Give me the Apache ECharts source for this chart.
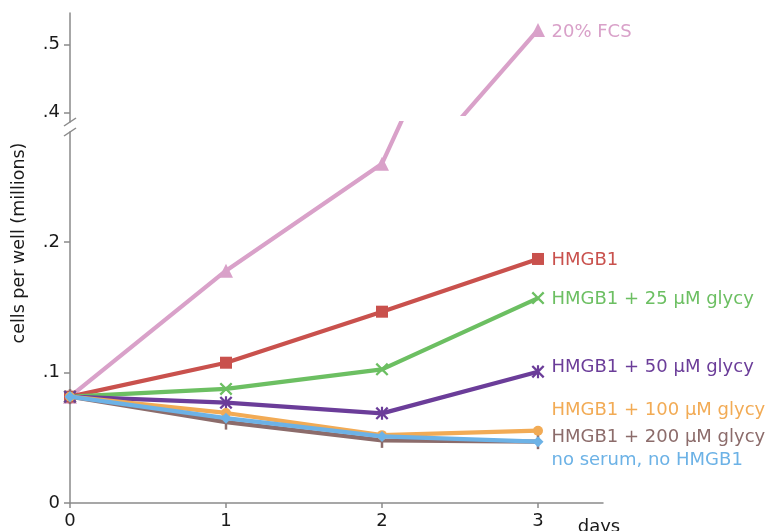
<!DOCTYPE html>
<html>
<head>
<meta charset="utf-8">
<script src="https://cdn.jsdelivr.net/npm/echarts@6/dist/echarts.min.js"></script>
<style>html,body{margin:0;padding:0;background:#fff;}#c{width:774px;height:531px;}</style>
</head>
<body>
<div id="c"></div>
<script>
// ---- data ----
var days = [0, 1, 2, 3];
var xTickLabels = [0, 1, 2, 3];
var lowerTicks = [0, 0.1, 0.2];
var upperTicks = [0.4, 0.5];
var seriesNames = ['20% FCS', 'HMGB1', 'HMGB1 + 25 µM glycy', 'HMGB1 + 50 µM glycy',
  'HMGB1 + 200 µM glycy', 'HMGB1 + 100 µM glycy', 'no serum, no HMGB1'];
var fcs      = [0.0815, 0.178, 0.260, 0.521];
var hmgb1    = [0.0815, 0.1075, 0.1466, 0.187];
var gly25    = [0.0815, 0.0874, 0.1024, 0.157];
var gly50    = [0.0815, 0.0769, 0.0687, 0.1006];
var gly200   = [0.0815, 0.062, 0.048, 0.047];
var gly100   = [0.0815, 0.069, 0.052, 0.0554];
var noSerum  = [0.0815, 0.065, 0.051, 0.047];

// ---- styles ----
var FONT = 'DejaVu Sans';
var FS = 18;
var AX = '#8a8a8a';
var TXT = '#1a1a1a';
var colors = ['#d9a1c9', '#c9514d', '#6cbf62', '#6b3d99', '#8c6c6b', '#f2ab55', '#6cb2e6'];
var xPath = 'path://M0,1.5 L1.5,0 L6,4.5 L10.5,0 L12,1.5 L7.5,6 L12,10.5 L10.5,12 L6,7.5 L1.5,12 L0,10.5 L4.5,6 Z';
var starPath = 'path://M0,1.5 L1.5,0 L6,4.5 L10.5,0 L12,1.5 L7.5,6 L12,10.5 L10.5,12 L6,7.5 L1.5,12 L0,10.5 L4.5,6 Z M5,0 L7,0 L7,12 L5,12 Z';
var markers = ['triangle', 'rect', xPath, starPath, 'rect', 'circle', 'diamond'];
var msize = [14, 12, 13, 13, [2.5, 15], 10, 11];
var labelDy = [2, 1, 1, -4, -4, -20, 19];
var values = [fcs, hmgb1, gly25, gly50, gly200, gly100, noSerum];
var zOrder = [2, 3, 4, 5, 6, 7, 8];

function fmt(v) {
  if (v === 0) return '0';
  return String(+v.toFixed(2)).replace(/^0/, '');
}

function buildData(vals, idx, withLabel) {
  return days.map(function (d, i) {
    var item = { value: [d, vals[i]] };
    if (withLabel && i === days.length - 1) {
      var w = Array.isArray(msize[idx]) ? msize[idx][0] : msize[idx];
      item.label = {
        show: true, position: 'right', distance: 551.5 - 538 - w / 2,
        offset: [0, labelDy[idx]], formatter: seriesNames[idx],
        color: colors[idx], fontSize: FS, fontFamily: FONT
      };
    }
    return item;
  });
}

var series = [];
values.forEach(function (vals, idx) {
  series.push({
    type: 'line', name: seriesNames[idx], xAxisIndex: 0, yAxisIndex: 0,
    data: buildData(vals, idx, idx !== 0),
    symbol: markers[idx], symbolSize: msize[idx], showAllSymbol: true,
    lineStyle: { color: colors[idx], width: 4.2 },
    itemStyle: { color: colors[idx] },
    label: { show: false }, clip: true, animation: false, z: zOrder[idx]
  });
});
// FCS in the upper (broken) panel
series.push({
  type: 'line', name: seriesNames[0] + ' (upper)', xAxisIndex: 1, yAxisIndex: 1,
  data: buildData(fcs, 0, true),
  symbol: markers[0], symbolSize: msize[0],
  lineStyle: { color: colors[0], width: 4.2 },
  itemStyle: { color: colors[0] },
  label: { show: false }, clip: true, animation: false, z: 2
});

var XMAX = 3.4167;
var hiddenX = function (g) { return { gridIndex: g, type: 'value', min: 0, max: XMAX, show: false }; };

var option = {
  backgroundColor: '#fff',
  animation: false,
  grid: [
    { left: 70, right: 171, top: 123, bottom: 28, outerBoundsMode: 'none', containLabel: false },   // lower data
    { left: 70, right: 171, top: 13, bottom: 417, outerBoundsMode: 'none', containLabel: false },   // upper data
    { left: 70, right: 171, top: 132, bottom: 28, outerBoundsMode: 'none', containLabel: false },   // lower axis line
    { left: 70, right: 171, top: 13, bottom: 409, outerBoundsMode: 'none', containLabel: false }    // upper axis
  ],
  xAxis: [
    {
      gridIndex: 0, type: 'value', min: 0, max: XMAX,
      axisLine: { show: true, lineStyle: { color: AX, width: 1.5 } },
      axisTick: { show: true, customValues: xTickLabels, length: 5, lineStyle: { color: AX, width: 1.5 } },
      axisLabel: { customValues: xTickLabels, margin: 9, fontSize: FS, fontFamily: FONT, color: TXT },
      splitLine: { show: false },
      name: 'days', nameLocation: 'end', nameGap: -4,
      nameTextStyle: { fontSize: FS, fontFamily: FONT, color: TXT, align: 'center', verticalAlign: 'top', padding: [15, 0, 0, 0] }
    },
    hiddenX(1), hiddenX(2), hiddenX(3)
  ],
  yAxis: [
    {
      gridIndex: 0, type: 'value', min: 0, max: (503 - 123) / 1305,
      axisLine: { show: false },
      axisTick: { show: true, customValues: lowerTicks, length: 6, lineStyle: { color: AX, width: 1.5 } },
      axisLabel: { customValues: lowerTicks, formatter: fmt, margin: 10, fontSize: FS, fontFamily: FONT, color: TXT },
      splitLine: { show: false }
    },
    { gridIndex: 1, type: 'value', min: 0.4 - (114 - 112.7) / 684, max: 0.5 + (44.3 - 13) / 684, show: false },
    {
      gridIndex: 2, type: 'value', min: 0, max: (503 - 132) / 1305,
      axisLine: { show: true, lineStyle: { color: AX, width: 1.5 } },
      axisTick: { show: false }, axisLabel: { show: false }, splitLine: { show: false }
    },
    {
      gridIndex: 3, type: 'value', min: 0.4 - (122 - 112.7) / 684, max: 0.5 + (44.3 - 13) / 684,
      axisLine: { show: true, lineStyle: { color: AX, width: 1.5 } },
      axisTick: { show: true, customValues: upperTicks, length: 6, lineStyle: { color: AX, width: 1.5 } },
      axisLabel: { customValues: upperTicks, formatter: fmt, margin: 10, fontSize: FS, fontFamily: FONT, color: TXT },
      splitLine: { show: false }
    }
  ],
  graphic: [
    { type: 'line', shape: { x1: 64, y1: 126, x2: 76, y2: 118 }, style: { stroke: AX, lineWidth: 1.5 }, z: 10 },
    { type: 'line', shape: { x1: 64, y1: 136, x2: 76, y2: 128 }, style: { stroke: AX, lineWidth: 1.5 }, z: 10 },
    {
      type: 'text', x: 19, y: 243, rotation: Math.PI / 2,
      style: { text: 'cells per well (millions)', fontSize: 17.5, fontFamily: FONT, fill: TXT, textAlign: 'center', textVerticalAlign: 'middle' }
    }
  ],
  series: series
};

var chart = echarts.init(document.getElementById('c'), null, { renderer: 'canvas' });
chart.setOption(option);
</script>
</body>
</html>
